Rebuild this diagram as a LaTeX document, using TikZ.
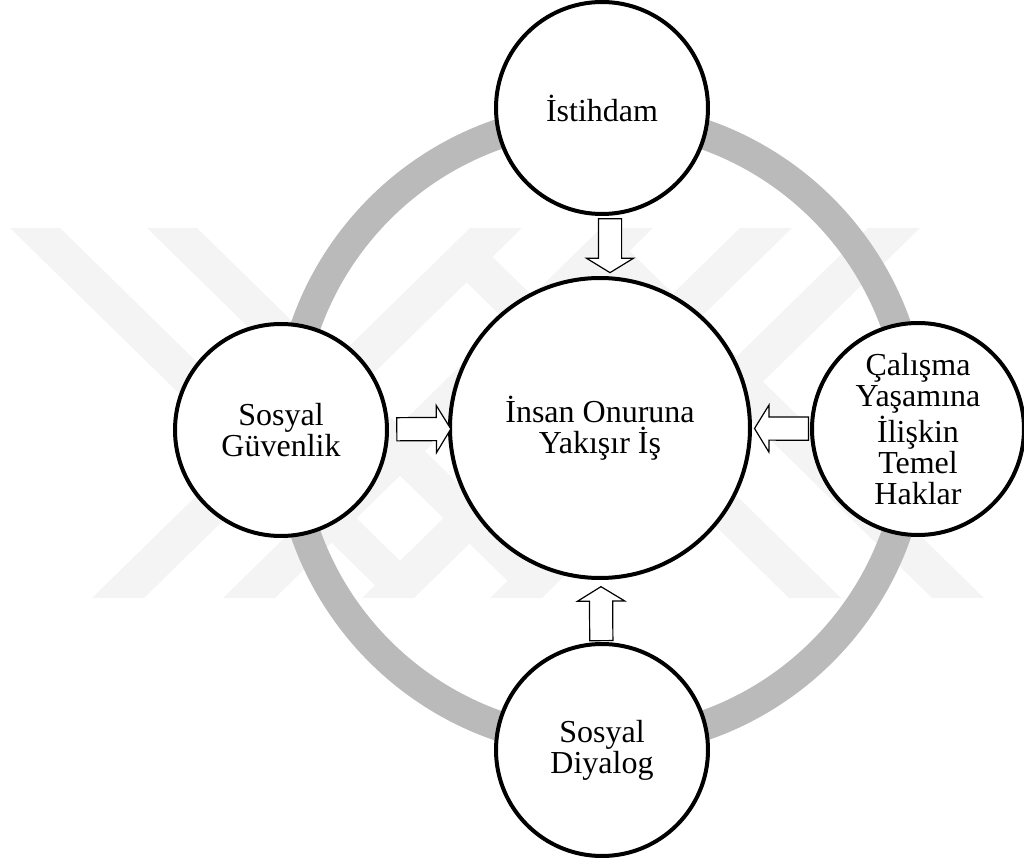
\documentclass[tikz,border=0pt]{standalone}
\usepackage{fontspec}
\setmainfont{Liberation Serif}
\usetikzlibrary{shapes.arrows}
\definecolor{halka}{gray}{0.73}
\definecolor{filigran}{gray}{0.955}
\begin{document}
\begin{tikzpicture}
  [x=0.5pt,y=-0.5pt,
   daire/.style={circle,draw,line width=2pt,fill=white,minimum size=106pt,inner sep=0pt,
     align=center,font=\fontsize{16}{15.5}\selectfont},
   blok/.style={single arrow,draw,line width=0.6pt,fill=white,inner xsep=0pt,inner ysep=5.5pt,
     minimum height=27pt,minimum width=23pt,single arrow head extend=6pt,
     single arrow tip angle=117,sloped,allow upside down}]
  \useasboundingbox (0,0) rectangle (1024,861);

  % filigran
  \fill[filigran] (92,598) -- (144,598) -- (522,228) -- (470,228) -- cycle;
  \fill[filigran] (223,598) -- (275,598) -- (653,228) -- (601,228) -- cycle;
  \fill[filigran] (362,598) -- (414,598) -- (792,228) -- (740,228) -- cycle;
  \fill[filigran] (490,598) -- (542,598) -- (920,228) -- (868,228) -- cycle;
  \fill[filigran] (10,228) -- (60,228) -- (400,560.8) -- (375,585.3) -- cycle;
  \fill[filigran] (147,228) -- (197,228) -- (532.5,556.4) -- (507.5,580.9) -- cycle;
  \fill[filigran] (466.5,282.3) -- (492.5,256.9) -- (841,598) -- (789,598) -- cycle;
  \fill[filigran] (603.5,276.5) -- (629.5,251) -- (984,598) -- (932,598) -- cycle;

  \coordinate (c) at (601,430);
  \draw[halka,line width=15pt] (c) circle (313);

  \node[daire,minimum size=150pt] (merkez) at (600,428) {İnsan Onuruna\\Yakışır İş};
  \node[daire] (ist) at (602,108) {İstihdam};
  \node[daire] (sg) at (281,430) {Sosyal\\Güvenlik};
  \node[daire] (cy) at (918,429) {Çalışma\\Yaşamına\\İlişkin\\Temel\\Haklar};
  \node[daire] (sd) at (602,750) {Sosyal\\Diyalog};

  \path (ist.south -| 610,0) -- node[blok,pos=.435] (o1) {} (merkez.north -| 610,0)
        (sg) -- node[blok,pos=.53] (o2) {} (merkez)
        (cy) -- node[blok,pos=.43] (o3) {} (merkez)
        (sd) -- node[blok,pos=.40] (o4) {} (merkez);
\end{tikzpicture}
\end{document}
